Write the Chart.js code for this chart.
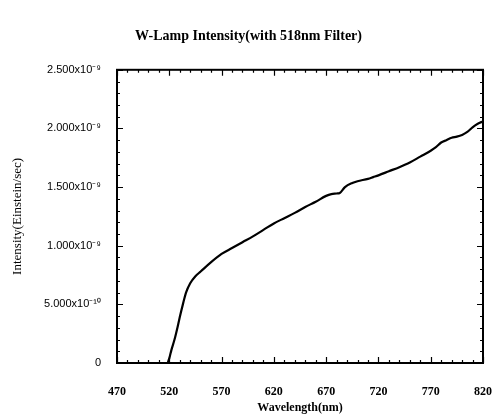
<!DOCTYPE html>
<html>
<head>
<meta charset="utf-8">
<script src="https://cdn.jsdelivr.net/npm/chart.js@4/dist/chart.umd.min.js"></script>
<style>
  html, body { margin: 0; padding: 0; background: #fff; }
  #wrap { width: 497px; height: 418px; }
</style>
</head>
<body>
<div id="wrap"><canvas id="chart1" width="497" height="418"></canvas></div>
<script>
// wavelength (nm) and intensity (x10^-9 Einstein/sec)
var wavelengths = [470, 480, 490, 500, 510, 515, 518, 520, 522, 525, 528, 530, 533, 536, 540, 545, 550, 560, 570, 580, 590, 600, 610, 620, 630, 640, 650, 660, 670, 675, 680, 683, 688, 695, 700, 710, 715, 720, 730, 740, 750, 760, 770, 775, 780, 785, 790, 795, 800, 805, 810, 815, 820];
var intensity = [0, 0, 0, 0, 0, 0, 0, 0.04, 0.11, 0.2, 0.31, 0.39, 0.5, 0.6, 0.68, 0.74, 0.78, 0.86, 0.93, 0.98, 1.03, 1.08, 1.135, 1.19, 1.235, 1.28, 1.33, 1.375, 1.425, 1.44, 1.445, 1.45, 1.5, 1.535, 1.55, 1.57, 1.585, 1.6, 1.635, 1.67, 1.71, 1.76, 1.81, 1.84, 1.88, 1.9, 1.92, 1.93, 1.945, 1.97, 2.01, 2.04, 2.06];
var yTickLabels = ['0', '5.000x10\u207B\u00B9\u2070', '1.000x10\u207B\u2079', '1.500x10\u207B\u2079', '2.000x10\u207B\u2079', '2.500x10\u207B\u2079'];

var points = [];
for (var i = 0; i < wavelengths.length; i++) {
  points.push({x: wavelengths[i], y: intensity[i]});
}

// box round the plot with small inward ticks, like the scanned plot
var frameTicks = {
  id: 'frameTicks',
  afterDraw: function(chart) {
    var ctx = chart.ctx;
    var a = chart.chartArea;
    var xs = chart.scales.x;
    var ys = chart.scales.y;
    ctx.save();
    ctx.strokeStyle = '#000';
    ctx.lineWidth = 1.2;
    ctx.beginPath();
    for (var v = 470; v <= 820; v += 10) {
      var px = Math.round(xs.getPixelForValue(v)) + 0.5;
      var len = (v - 470) % 50 === 0 ? 6 : 3;
      ctx.moveTo(px, a.bottom); ctx.lineTo(px, a.bottom - len);
      ctx.moveTo(px, a.top); ctx.lineTo(px, a.top + len);
    }
    for (var k = 0; k <= 25; k++) {
      var py = Math.round(ys.getPixelForValue(k / 10)) + 0.5;
      var l = k % 5 === 0 ? 6 : 3;
      ctx.moveTo(a.left, py); ctx.lineTo(a.left + l, py);
      ctx.moveTo(a.right, py); ctx.lineTo(a.right - l, py);
    }
    ctx.stroke();
    ctx.lineWidth = 2;
    ctx.strokeRect(a.left, a.top, a.right - a.left, a.bottom - a.top);
    ctx.restore();
  }
};

var ctx1 = document.getElementById('chart1').getContext('2d');
var lampChart = new Chart(ctx1, {
  type: 'scatter',
  data: {
    datasets: [
      {
        data: points,
        showLine: true,
        borderColor: '#000',
        borderWidth: 2.2,
        pointRadius: 0,
        cubicInterpolationMode: 'monotone',
      },
    ]
  },
  options: {
    responsive: false,
    animation: false,
    layout: { padding: { left: 0, right: 0, top: 0, bottom: 3 } },
    plugins: {
      legend: { display: false },
      tooltip: { enabled: false },
      title: {
        display: true,
        text: 'W-Lamp Intensity(with 518nm Filter)',
        color: '#000',
        font: { family: 'Liberation Serif', size: 14, weight: 'bold' },
        padding: { top: 28, bottom: 25 }
      }
    },
    scales: {
      x: {
        type: 'linear',
        min: 470,
        max: 820,
        afterFit: function(scale) {
          scale.height = 52;
          scale.paddingLeft = 0;
          scale.paddingRight = 14;
        },
        grid: { display: false, drawTicks: false },
        border: { display: false },
        ticks: {
          stepSize: 50,
          color: '#000',
          padding: 22,
          maxRotation: 0,
          font: { family: 'Liberation Serif', size: 12, weight: 'bold' }
        },
        title: {
          display: true,
          text: 'Wavelength(nm)',
          color: '#000',
          padding: 0,
          font: { family: 'Liberation Serif', size: 12, weight: 'bold' }
        }
      },
      y: {
        min: 0,
        max: 2.5,
        afterFit: function(scale) { scale.width = 117; },
        grid: { display: false, drawTicks: false },
        border: { display: false },
        ticks: {
          stepSize: 0.5,
          color: '#000',
          padding: 16,
          font: { family: 'Liberation Sans', size: 11 },
          callback: function(value, index) { return yTickLabels[index]; }
        },
        title: {
          display: true,
          text: 'Intensity(Einstein/sec)',
          color: '#000',
          padding: { top: 10, bottom: 0 },
          font: { family: 'Liberation Serif', size: 13 }
        }
      }
    }
  },
  plugins: [frameTicks]
});
</script>
</body>
</html>
